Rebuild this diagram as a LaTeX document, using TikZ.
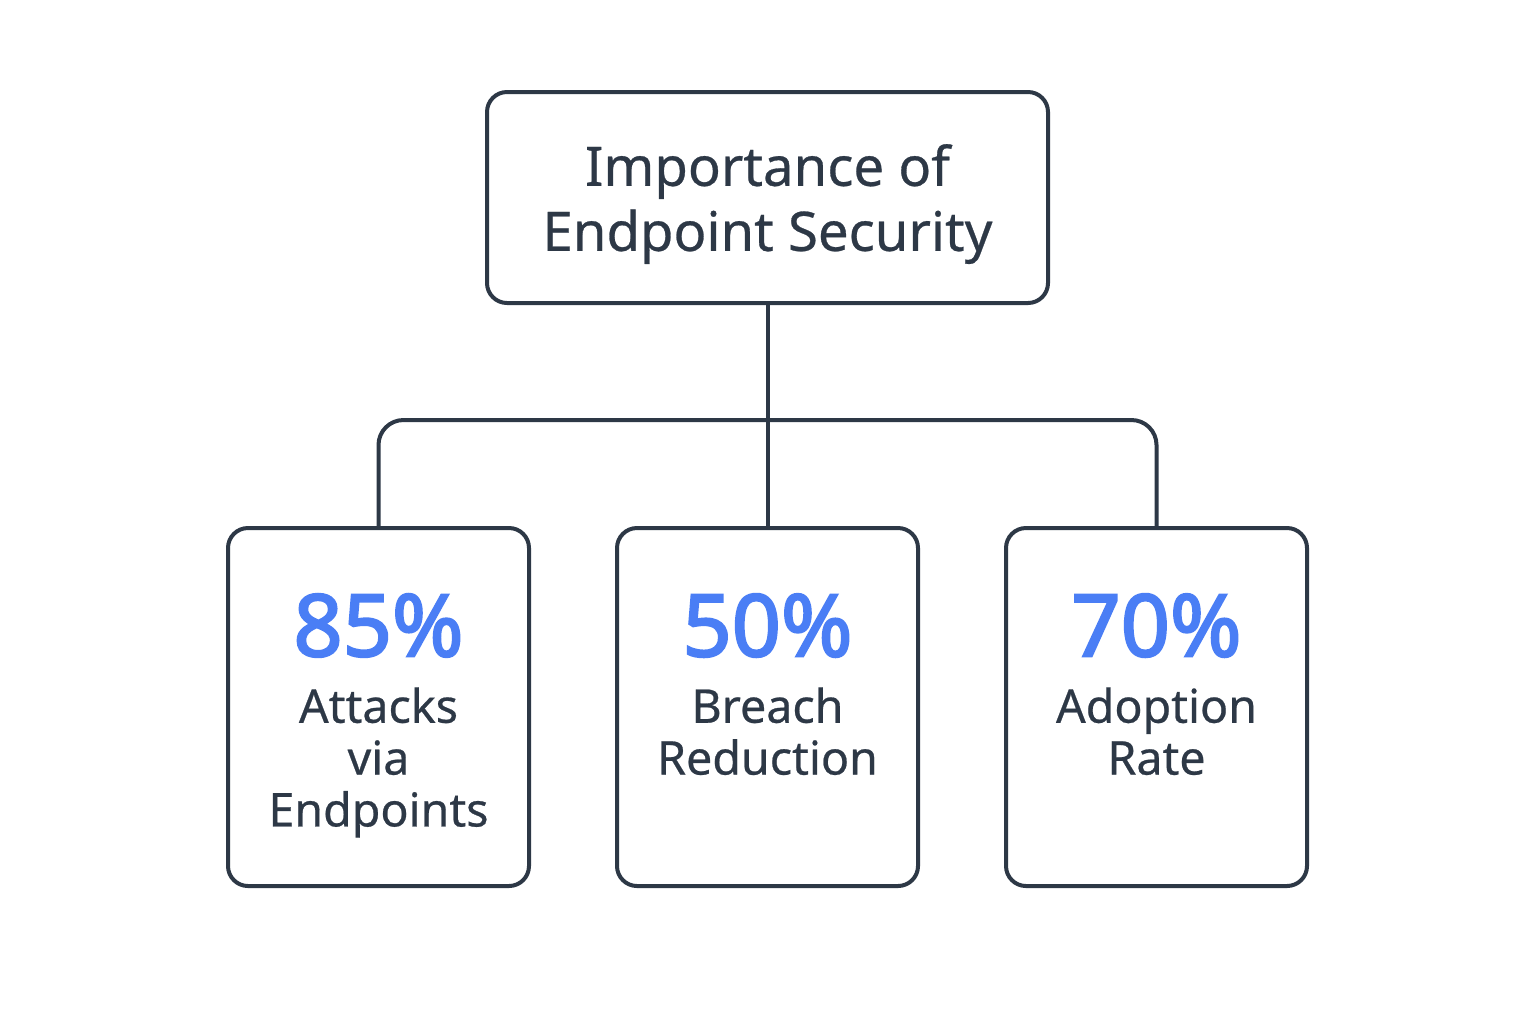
\documentclass[tikz,border=0pt]{standalone}
\usepackage{fontspec}
\setmainfont{Noto Sans}[FakeBold=0.5]
\newfontfamily\statfont{Noto Sans}[FakeBold=2.6]
\usepackage{tikz}
\usetikzlibrary{positioning,calc}
\definecolor{slateInk}{HTML}{2D3846}
\definecolor{statBlue}{HTML}{4A7EF5}

\begin{document}
\begin{tikzpicture}[
  box/.style={draw=slateInk, line width=0.08cm, rounded corners=0.4cm, fill=white},
  card/.style={box, minimum width=6.02cm, minimum height=7.16cm},
  stat/.style={anchor=north, inner sep=0pt, text=statBlue, font=\statfont\fontsize{49}{52}\selectfont},
  caption/.style={anchor=north, inner sep=0pt, align=center, text=slateInk, font=\fontsize{26.5}{29.5}\selectfont},
  link/.style={draw=slateInk, line width=0.08cm, rounded corners=0.5cm}
]
  \useasboundingbox (0,0) rectangle (30.72,-20.48);

  \node[box, minimum width=11.22cm, minimum height=4.22cm, align=center, text=slateInk,
        text depth=0pt, font=\fontsize{31}{37}\selectfont] (top) at (15.35,-3.95) {Importance of\\Endpoint Security};
  \node[card, below=4.42cm of top] (breach) {};
  \node[card, left=1.68cm of breach] (attacks) {};
  \node[card, right=1.68cm of breach] (adoption) {};

  \node[stat] (attacksNum) at ($(attacks.north)+(0,-1.35)$) {85\%};
  \node[stat] (breachNum) at ($(breach.north)+(0,-1.35)$) {50\%};
  \node[stat] (adoptionNum) at ($(adoption.north)+(0,-1.35)$) {70\%};

  \node[caption] (attacksText) at ($(attacks.north)+(0,-3.22)$) {Attacks\\via\\Endpoints};
  \node[caption] (breachText) at ($(breach.north)+(0,-3.22)$) {Breach\\Reduction};
  \node[caption] (adoptionText) at ($(adoption.north)+(0,-3.22)$) {Adoption\\Rate};

  \coordinate (hub) at (top.south |- 0,-8.4);
  \draw[link] (top.south) -- (breach.north);
  \draw[link] (attacks.north) |- (hub) -| (adoption.north);
\end{tikzpicture}
\end{document}
